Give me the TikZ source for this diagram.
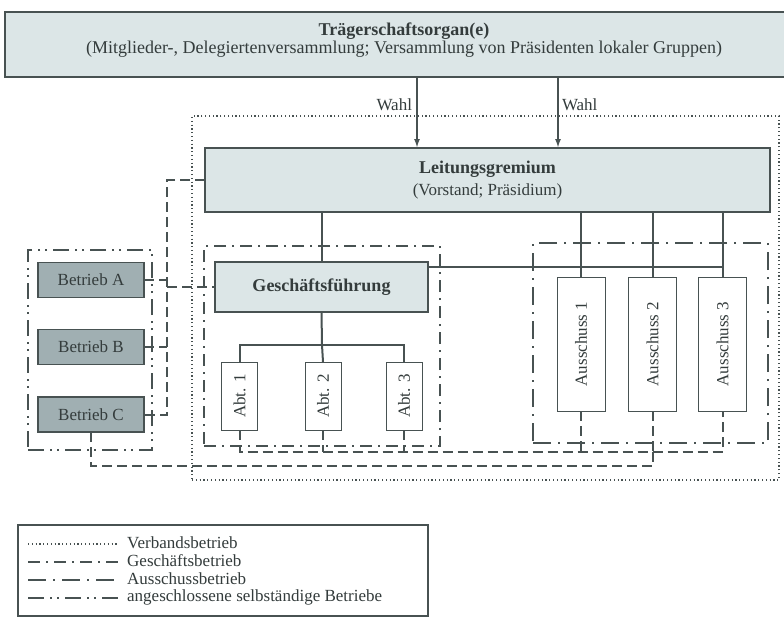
\documentclass[tikz,border=0pt]{standalone}
\usepackage{fontspec}
\usepackage{graphicx}
\setmainfont{Liberation Serif}
\usetikzlibrary{arrows.meta}
\definecolor{ink}{RGB}{72,82,82}
\definecolor{txt}{RGB}{52,60,60}
\definecolor{lightfill}{RGB}{220,230,231}
\definecolor{darkfill}{RGB}{160,175,178}
\begin{document}
\begin{tikzpicture}[x=1pt,y=-1pt,
  every node/.style={text=txt},
  bigbox/.style={draw=ink, line width=1.5pt, fill=lightfill, inner sep=0pt, outer sep=0pt, align=center},
  betrieb/.style={draw=ink, line width=1.5pt, fill=darkfill, minimum width=106pt, minimum height=35pt, inner sep=0pt, outer sep=0pt, font=\fontsize{17}{20}\selectfont},
  unitbox/.style={draw=ink, line width=1pt, fill=white, inner sep=0pt, outer sep=0pt, font=\fontsize{17}{20}\selectfont},
  solidline/.style={draw=ink, line width=2pt},
  conn/.style={draw=ink, line width=2pt, dash pattern=on 10pt off 5pt},
  verbandline/.style={draw=ink, line width=1.5pt, dash pattern=on 1.2pt off 2.6pt},
  geschline/.style={draw=ink, line width=2pt, dash pattern=on 12pt off 6pt on 2pt off 6pt},
  ausschline/.style={draw=ink, line width=2pt, dash pattern=on 18pt off 7pt on 2pt off 7pt},
  angline/.style={draw=ink, line width=2pt, dash pattern=on 16pt off 6pt on 2pt off 5pt on 2pt off 6pt},
  frame/.style={inner sep=0pt, outer sep=0pt},
  plaintext/.style={inner sep=0pt, outer sep=0pt},
  legtext/.style={anchor=west, inner sep=0pt, font=\fontsize{17}{19}\selectfont}
]
\useasboundingbox[fill=white] (0,0) rectangle (784,627);

% group frames
\node[frame, verbandline, minimum width=587pt, minimum height=364pt] (fverband) at (485.5,298) {};
\node[frame, geschline, minimum width=236pt, minimum height=200pt] (fgesch) at (322,346) {};
\node[frame, ausschline, minimum width=235pt, minimum height=200pt] (fausch) at (650.5,343) {};
\node[frame, angline, minimum width=124pt, minimum height=200pt] (fang) at (90,350) {};

% main boxes
\node[bigbox, minimum width=798pt, minimum height=65pt] (traeger) at (404,44.5) {};
\node[plaintext, font=\fontsize{18}{20}\selectfont\bfseries] (ttitle) at (404,31) {Trägerschaftsorgan(e)};
\node[plaintext, font=\fontsize{18}{20}\selectfont] (tsub) at (404,49) {(Mitglieder-, Delegiertenversammlung; Versammlung von Präsidenten lokaler Gruppen)};
\node[bigbox, minimum width=565pt, minimum height=64pt, font=\fontsize{17}{22}\selectfont] (leit) at (487.5,180)
  {{\fontsize{18}{22}\selectfont\bfseries Leitungsgremium}\\(Vorstand; Präsidium)};
\node[bigbox, minimum width=213pt, minimum height=50pt, font=\fontsize{18}{22}\selectfont\bfseries] (gf) at (321.5,287) {Geschäftsführung};

% departments
\node[unitbox, minimum width=36pt, minimum height=68pt] (abt1) at (239.5,396) {\rotatebox{90}{Abt. 1}};
\node[unitbox, minimum width=36pt, minimum height=68pt] (abt2) at (323,396) {\rotatebox{90}{Abt. 2}};
\node[unitbox, minimum width=36pt, minimum height=68pt] (abt3) at (404,396) {\rotatebox{90}{Abt. 3}};

% committees
\node[unitbox, minimum width=48pt, minimum height=134pt] (aus1) at (581,344) {\rotatebox{90}{Ausschuss 1}};
\node[unitbox, minimum width=48pt, minimum height=134pt] (aus2) at (652.5,344) {\rotatebox{90}{Ausschuss 2}};
\node[unitbox, minimum width=48pt, minimum height=134pt] (aus3) at (722.5,344) {\rotatebox{90}{Ausschuss 3}};

% Betriebe
\node[betrieb] (ba) at (91,280) {Betrieb A};
\node[betrieb] (bb) at (91,347) {Betrieb B};
\node[betrieb] (bc) at (91,414.5) {Betrieb C};

% Wahl arrows
\coordinate (w1) at (417,0);
\coordinate (w2) at (558,0);
\draw[solidline, -{Latex[length=9pt,width=6pt]}] (traeger.south -| w1) -- (leit.north -| w1);
\draw[solidline, -{Latex[length=9pt,width=6pt]}] (traeger.south -| w2) -- (leit.north -| w2);
\node[anchor=east, plaintext, font=\fontsize{17}{20}\selectfont] (wahl1) at (412,105) {Wahl};
\node[anchor=west, plaintext, font=\fontsize{17}{20}\selectfont] (wahl2) at (562,105) {Wahl};

% solid connectors
\draw[solidline] (leit.south -| gf.north) -- (gf.north);
\draw[solidline] (leit.south -| aus1.north) -- (aus1.north);
\draw[solidline] (leit.south -| aus2.north) -- (aus2.north);
\draw[solidline] (leit.south -| aus3.north) -- (aus3.north);
\coordinate (gfe) at (428,267);
\draw[solidline] (gfe) -- (aus3.north |- gfe);
\coordinate (bus) at (322,345);
\draw[solidline] (gf.south) -- (bus);
\draw[solidline] (abt1.north) |- (bus) -| (abt3.north);
\draw[solidline] (bus) -- (abt2.north);

% dashed connectors
\coordinate (lx) at (167,0);
\draw[conn] (leit.west) -- (leit.west -| lx) -- (lx |- bc.east) -- (bc.east);
\draw[conn] (bb.east) -- (bb.east -| lx);
\draw[conn] (ba.east) -- (ba.east -| lx) -- (lx |- gf.west) -- (gf.west);
\coordinate (yb1) at (0,452);
\coordinate (yb2) at (0,466);
\draw[conn] (bc.south) -- (bc.south |- yb2) -- (aus2.south |- yb2) -- (aus2.south |- yb1);
\draw[conn] (abt1.south) -- (abt1.south |- yb1) -- (aus3.south |- yb1) -- (aus3.south);
\draw[conn] (abt2.south) -- (abt2.south |- yb1);
\draw[conn] (abt3.south) -- (abt3.south |- yb1);
\draw[conn] (aus1.south) -- (aus1.south |- yb1);
\draw[conn] (aus2.south) -- (aus2.south |- yb1);

% legend
\node[frame, draw=ink, line width=1.5pt, minimum width=410pt, minimum height=91pt] (legend) at (223,570.5) {};
\coordinate (l1a) at (28,544); \coordinate (l1b) at (118,544);
\coordinate (l2a) at (28,562); \coordinate (l2b) at (118,562);
\coordinate (l3a) at (28,580); \coordinate (l3b) at (118,580);
\coordinate (l4a) at (28,598); \coordinate (l4b) at (118,598);
\draw[verbandline] (l1a) -- (l1b);
\draw[geschline] (l2a) -- (l2b);
\draw[ausschline] (l3a) -- (l3b);
\draw[angline] (l4a) -- (l4b);
\node[legtext] (t1) at (127,543) {Verbandsbetrieb};
\node[legtext] (t2) at (127,561) {Geschäftsbetrieb};
\node[legtext] (t3) at (127,579) {Ausschussbetrieb};
\node[legtext] (t4) at (127,597) {angeschlossene selbständige Betriebe};
\end{tikzpicture}
\end{document}
